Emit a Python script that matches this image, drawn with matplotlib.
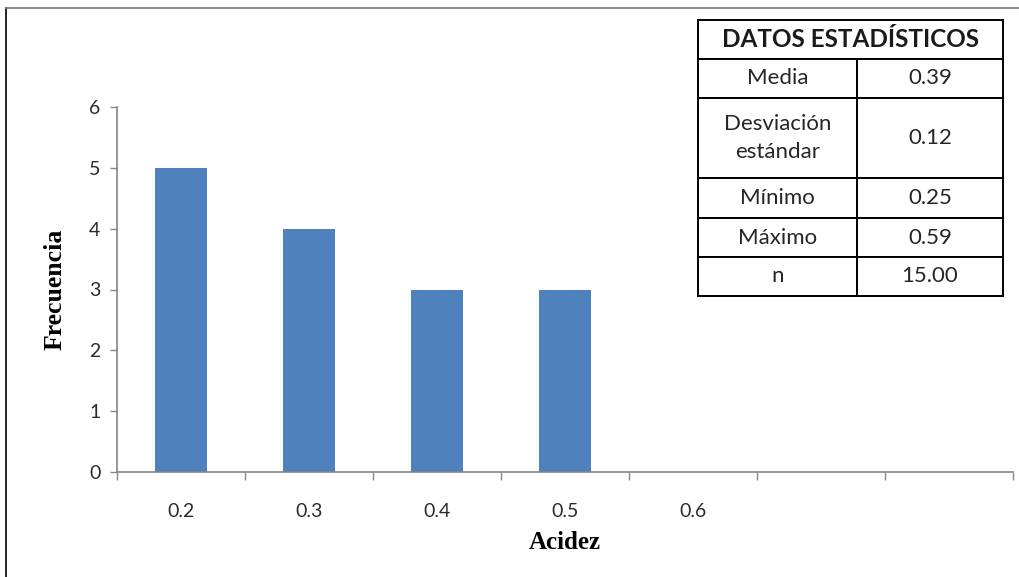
#!/usr/bin/env python3
# -*- coding: utf-8 -*-

"""
Histograma de acidez con tabla de datos estadísticos.

Output:
    out.png
"""

import matplotlib
matplotlib.use("Agg")
import matplotlib.pyplot as plt
from matplotlib.lines import Line2D

# --- Datos ---
CATEGORIES = ["0.2", "0.3", "0.4", "0.5", "0.6", "", ""]
FREQUENCIES = [5, 4, 3, 3, 0, 0, 0]

STAT_TITLE = "DATOS ESTADÍSTICOS"
STAT_NAMES = ["Media", "Desviación\nestándar", "Mínimo", "Máximo", "n"]
STAT_VALUES = ["0.39", "0.12", "0.25", "0.59", "15.00"]

Y_TICKS = [0, 1, 2, 3, 4, 5, 6]

BAR_COLOR = "#4F81BD"
AXIS_COLOR = "#868686"
SANS = ["Lato", "DejaVu Sans"]
SERIF = ["Liberation Serif", "DejaVu Serif"]

W, H = 1019, 577


def main():
    fig = plt.figure(figsize=(W / 100, H / 100), dpi=100)

    # --- Chart area ---
    ax = fig.add_axes([117 / W, 1 - 472 / H, (1013 - 117) / W, (472 - 107) / H])
    x = list(range(len(CATEGORIES)))
    ax.bar(x, FREQUENCIES, width=0.41, color=BAR_COLOR, edgecolor="none")

    ax.set_xlim(-0.5, len(CATEGORIES) - 0.5)
    ax.set_ylim(0, 6)
    ax.set_yticks(Y_TICKS)
    ax.set_yticklabels([str(t) for t in Y_TICKS], family=SANS, fontsize=14,
                       color="#2b2b2b")
    ax.set_xticks(x)
    ax.set_xticklabels(CATEGORIES, family=SANS, fontsize=14, color="#2b2b2b")
    ax.set_xticks([i - 0.5 for i in range(len(CATEGORIES) + 1)], minor=True)
    ax.tick_params(axis="x", which="major", length=0, pad=22)
    ax.tick_params(axis="x", which="minor", length=6, width=1, color=AXIS_COLOR)
    ax.tick_params(axis="y", length=5, width=1, color=AXIS_COLOR, pad=7)

    for side in ("top", "right"):
        ax.spines[side].set_visible(False)
    for side in ("left", "bottom"):
        ax.spines[side].set_color(AXIS_COLOR)
        ax.spines[side].set_linewidth(1.2)

    ax.set_xlabel("Acidez", family=SERIF, fontweight="bold", fontsize=18,
                  labelpad=8)
    ax.set_ylabel("Frecuencia", family=SERIF, fontweight="bold", fontsize=18.5,
                  labelpad=16)

    # --- Stats table ---
    tab_ax = fig.add_axes([698 / W, 1 - 296 / H, (1003 - 698) / W, (296 - 20) / H])
    tab_ax.axis("off")
    cell_text = [["", ""]] + [[n, v] for n, v in zip(STAT_NAMES, STAT_VALUES)]
    table = tab_ax.table(cellText=cell_text, colWidths=[159, 146],
                         cellLoc="center", bbox=[0, 0, 1, 1])
    table.auto_set_font_size(False)
    row_heights = [39, 39, 80, 40, 39, 39]
    for (r, c), cell in table.get_celld().items():
        cell.set_height(row_heights[r])
        cell.set_linewidth(1.4)
        txt = cell.get_text()
        txt.set_fontsize(16)
        txt.set_family(SANS)
        txt.set_color("#262626")
        txt.set_linespacing(1.45)
        if r == 0:
            cell.visible_edges = "BLT" if c == 0 else "BRT"
    tab_ax.text(0.5, 1 - row_heights[0] / sum(row_heights) / 2, STAT_TITLE,
                transform=tab_ax.transAxes, ha="center", va="center",
                family=SANS, fontweight="bold", fontsize=17.5, color="#1a1a1a")

    # --- Figure frame (left and top) ---
    fig.add_artist(Line2D([6 / W, 6 / W], [0, 1 - 8 / H], color="black",
                          linewidth=1.2, transform=fig.transFigure))
    fig.add_artist(Line2D([6 / W, 1], [1 - 8 / H, 1 - 8 / H], color="#777777",
                          linewidth=1.2, transform=fig.transFigure))

    fig.savefig("out.png", dpi=100)
    plt.close(fig)


if __name__ == "__main__":
    main()
